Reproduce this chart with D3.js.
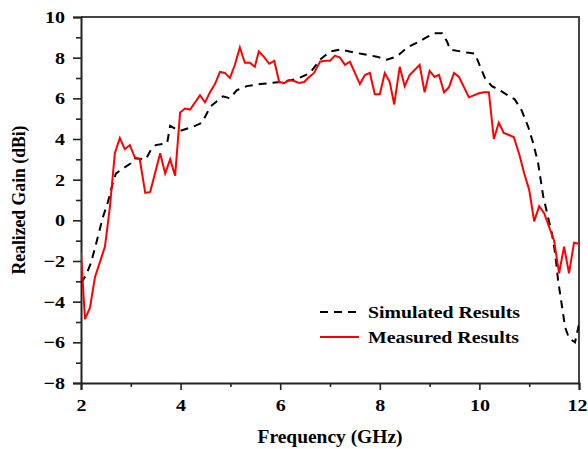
<!DOCTYPE html>
<html><head><meta charset="utf-8">
<script src="https://cdn.jsdelivr.net/npm/d3@7"></script>
<style>body{margin:0;background:#fff}svg{display:block}text{font-family:"Liberation Serif","Times New Roman",serif;font-weight:bold}</style>
</head><body><svg id="c" width="588" height="449"></svg>
<script>
const simFreq = [2.0,2.1,2.2,2.34,2.44,2.54,2.64,2.7,2.84,3.0,3.06,3.3,3.4,3.5,3.73,3.79,3.93,3.99,4.25,4.43,4.6,4.85,4.99,5.13,5.33,5.6,6.0,6.34,6.6,6.8,7.0,7.2,7.6,7.94,8.14,8.34,8.55,8.8,8.9,9.1,9.25,9.35,9.41,9.75,9.91,10.11,10.25,10.41,10.57,10.71,10.85,10.98,11.08,11.18,11.28,11.36,11.46,11.52,11.58,11.66,11.72,11.8,11.92,11.96,12.0];
const simGain = [-3.1,-2.7,-2.1,-0.8,0.15,0.9,1.85,2.3,2.55,2.8,3.05,3.0,3.45,3.7,3.8,4.65,4.45,4.4,4.6,4.8,5.6,6.1,6.0,6.4,6.6,6.7,6.8,6.95,7.25,7.9,8.3,8.4,8.2,8.05,7.9,8.05,8.5,8.8,8.95,9.2,9.2,8.8,8.4,8.25,8.2,7.0,6.6,6.4,6.15,5.95,5.4,4.6,3.8,2.8,1.2,0.35,-0.7,-1.6,-2.95,-4.25,-5.25,-5.8,-6.0,-5.55,-5.1];
const measFreq = [2.0,2.08,2.18,2.28,2.48,2.58,2.68,2.78,2.88,2.98,3.08,3.18,3.29,3.39,3.59,3.69,3.79,3.89,3.99,4.09,4.19,4.39,4.49,4.59,4.69,4.79,4.89,4.99,5.09,5.19,5.29,5.39,5.49,5.57,5.67,5.78,5.88,5.98,6.08,6.18,6.28,6.38,6.48,6.58,6.68,6.8,6.9,7.0,7.1,7.2,7.3,7.4,7.5,7.6,7.7,7.8,7.9,8.0,8.1,8.2,8.29,8.4,8.5,8.6,8.8,8.9,9.0,9.1,9.19,9.29,9.39,9.49,9.59,9.79,9.99,10.09,10.19,10.29,10.39,10.49,10.69,10.8,10.9,11.0,11.1,11.2,11.3,11.5,11.6,11.7,11.8,11.9,12.0];
const measGain = [-1.6,-4.86,-4.3,-2.8,-1.3,0.65,3.3,4.05,3.5,3.7,3.1,3.0,1.35,1.4,3.3,2.3,3.0,2.2,5.3,5.5,5.45,6.15,5.8,6.3,6.7,7.3,7.25,7.0,7.65,8.5,7.75,7.75,7.55,8.3,8.05,7.7,7.85,6.8,6.75,6.9,6.85,6.75,6.8,7.05,7.25,7.8,7.85,7.85,8.1,8.0,7.65,7.8,7.25,6.7,7.15,7.25,6.2,6.2,7.25,6.8,5.7,7.55,6.6,7.15,7.65,6.3,7.35,7.05,7.15,6.3,6.55,7.25,7.05,6.05,6.25,6.3,6.3,4.0,4.8,4.3,4.1,3.25,2.3,1.5,-0.05,0.7,0.35,-1.0,-2.6,-1.3,-2.6,-1.1,-1.15];
const xTicks = [2,4,6,8,10,12];
const yTicks = [-8,-6,-4,-2,0,2,4,6,8,10];
const seriesNames = ["Simulated Results","Measured Results"];

const svg = d3.select("#c");
const L=81, R=579, T=17, B=383;
const SX = 1.18;
const x = d3.scaleLinear().domain([2,12]).range([L,R]);
const y = d3.scaleLinear().domain([-8,10]).range([B,T]);

svg.append("path").attr("d",`M${L},${T}H${R}V${B}`).attr("fill","none").attr("stroke","#444").attr("stroke-width",2);

const minorX = d3.range(3,12,2), minorY = d3.range(-7,10,2);
const gx = svg.append("g").attr("transform",`translate(0,${B})`);
gx.call(d3.axisBottom(x).tickValues(xTicks).tickSize(7).tickPadding(9).tickFormat(d3.format("d")));
svg.append("g").attr("transform",`translate(0,${B})`).call(d3.axisBottom(x).tickValues(minorX).tickSize(4).tickFormat(""))
  .call(g=>g.select(".domain").remove());
const gy = svg.append("g").attr("transform",`translate(${L},0)`);
gy.call(d3.axisLeft(y).tickValues(yTicks).tickSize(8).tickPadding(8).tickFormat(d3.format("d")));
svg.append("g").attr("transform",`translate(${L},0)`).call(d3.axisLeft(y).tickValues(minorY).tickSize(5).tickFormat(""))
  .call(g=>g.select(".domain").remove());
svg.selectAll(".domain").attr("stroke","#222").attr("stroke-width",2);
svg.selectAll(".tick line").attr("stroke","#222").attr("stroke-width",1.6);
svg.selectAll(".tick text").attr("font-size",17).attr("fill","#000").attr("font-family","Liberation Serif").attr("font-weight","bold");
gy.selectAll(".tick text").attr("x",-16/SX).attr("transform",`scale(${SX},1)`);
gx.selectAll(".tick text").attr("transform",`scale(${SX},1)`).attr("x",d=>d===12?-2/SX:0);

const line = d3.line().x(d=>x(d[0])).y(d=>y(d[1]));
svg.append("clipPath").attr("id","cp").append("rect").attr("x",L).attr("y",T).attr("width",R-L).attr("height",B-T);
svg.append("path").datum(d3.zip(simFreq,simGain)).attr("d",line).attr("fill","none").attr("stroke","#000").attr("stroke-width",2).attr("stroke-dasharray","8,6").attr("clip-path","url(#cp)");
svg.append("path").datum(d3.zip(measFreq,measGain)).attr("d",line).attr("fill","none").attr("stroke","#f00").attr("stroke-width",2).attr("clip-path","url(#cp)");

const lg = svg.append("g");
[[312,"#000","8,6",152],[337,"#f00",null,151]].forEach((s,i)=>{
  lg.append("line").attr("x1",320).attr("x2",359).attr("y1",s[0]).attr("y2",s[0]).attr("stroke",s[1]).attr("stroke-width",2).attr("stroke-dasharray",s[2]);
  lg.append("text").attr("x",368).attr("y",s[0]+6).attr("font-size",17.5).attr("textLength",s[3]).attr("lengthAdjust","spacingAndGlyphs").text(seriesNames[i]);
});

svg.append("text").attr("x",(L+R)/2).attr("y",443).attr("text-anchor","middle").attr("font-size",18).attr("textLength",145).attr("lengthAdjust","spacingAndGlyphs").text("Frequency (GHz)");
svg.append("text").attr("transform",`translate(25,${(T+B)/2}) rotate(-90)`).attr("text-anchor","middle").attr("font-size",18).attr("textLength",149).attr("lengthAdjust","spacingAndGlyphs").text("Realized Gain (dBi)");
</script></body></html>
